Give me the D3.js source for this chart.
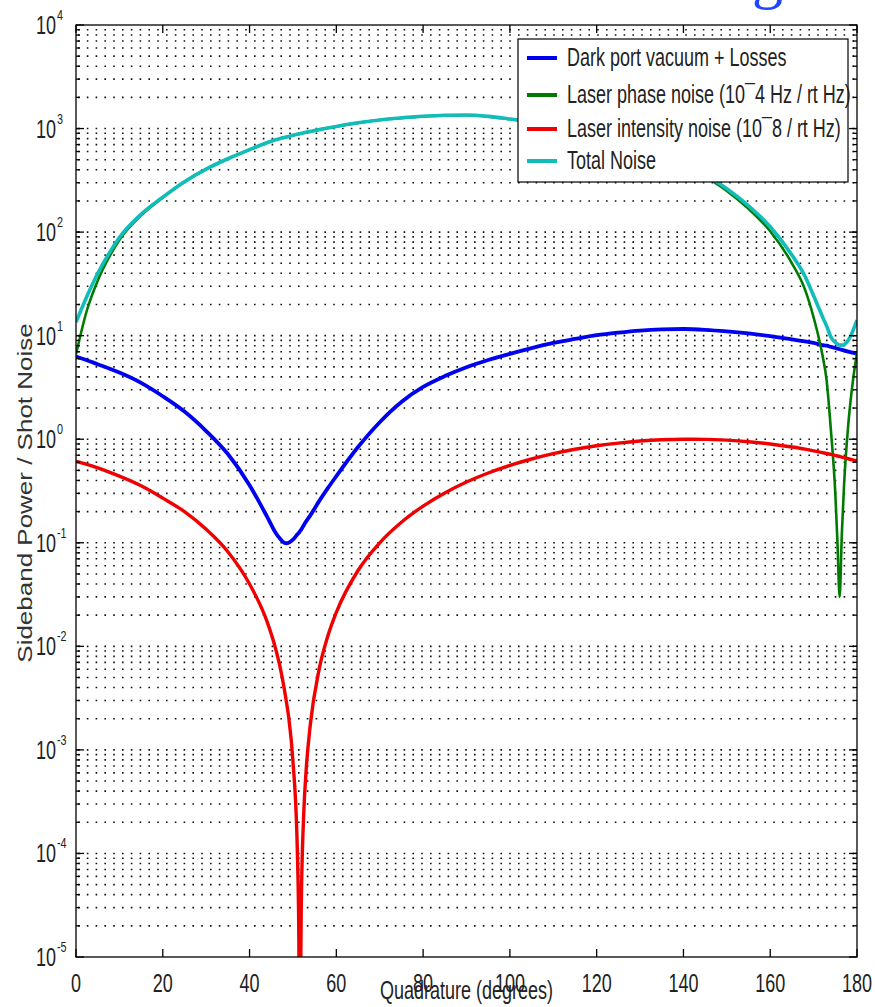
<!DOCTYPE html>
<html>
<head>
<meta charset="utf-8">
<script src="https://cdn.jsdelivr.net/npm/d3@7"></script>
<style>
  body { margin: 0; background: #fff; }
  svg { display: block; font-family: "Liberation Sans", Arial, sans-serif; }
</style>
</head>
<body>
<svg id="chart" width="875" height="1007"></svg>
<script>
// quadrature angle (degrees) shared by all curves
const quadratureDeg = [0, 2.5, 5, 7.5, 10, 15, 20, 25, 30, 35, 40, 44, 46, 47, 48, 48.5, 49, 50, 51,
  51.3, 51.6, 51.9, 52.5, 53, 54, 56, 58, 60, 65, 70, 75, 80, 85, 90, 95, 100,
  105, 110, 115, 120, 125, 130, 135, 140, 145, 150, 155, 160, 165, 168, 170,
  172, 173, 174, 175, 175.5, 176, 176.5, 177, 178, 179, 180];

const darkPortVacuum = [6.3, 5.8, 5.3, 4.85, 4.4, 3.5, 2.6, 1.85, 1.2, 0.72, 0.36, 0.18, 0.125, 0.11, 0.1, 0.099, 0.1, 0.107, 0.12,
  0.124, 0.129, 0.134, 0.148, 0.16, 0.184, 0.251, 0.335, 0.44, 0.84, 1.46, 2.29, 3.2, 4.07, 4.95, 5.82, 6.68,
  7.59, 8.51, 9.3, 10.1, 10.7, 11.2, 11.5, 11.6, 11.4, 11.0, 10.5, 9.9, 9.2, 8.8, 8.5,
  8.1, 8.0, 7.8, 7.6, 7.5, 7.4, 7.3, 7.2, 7.0, 6.85, 6.7];

const laserPhaseNoise = [6.6, 17.5, 34, 56, 84, 145, 215, 305, 405, 510, 625, 730, 780, 800, 820, 830, 840, 860, 880,
  886, 892, 898, 910, 919, 938, 975, 1012, 1048, 1135, 1210, 1265, 1310, 1338, 1345, 1305, 1230,
  1152, 1068, 978, 880, 775, 665, 555, 455, 345, 250, 168, 102, 50, 28, 15,
  6.6, 3.7, 1.2, 0.3, 0.1, 0.03, 0.12, 0.35, 1.4, 3.5, 6.8];

const laserIntensityNoise = [0.61, 0.572, 0.53, 0.484, 0.44, 0.355, 0.27, 0.2, 0.135, 0.082, 0.04, 0.0175, 0.0095, 0.0064, 0.0039, 0.0029, 0.0021, 0.00078, 0.00011,
  0.000027, 0.000001, 0.000027, 0.00025, 0.0006, 0.00175, 0.0059, 0.0124, 0.0213, 0.054, 0.1, 0.158, 0.226, 0.303, 0.386, 0.472, 0.559,
  0.644, 0.725, 0.8, 0.865, 0.918, 0.96, 0.987, 0.999, 0.997, 0.979, 0.946, 0.9, 0.842, 0.803, 0.773,
  0.742, 0.728, 0.713, 0.697, 0.689, 0.681, 0.673, 0.664, 0.648, 0.631, 0.614];

const totalNoise = [13.5, 23.9, 39.8, 61.3, 88.8, 148.9, 217.9, 307, 406.3, 510.8, 625.4, 730.2, 780.1, 800.1, 820.1, 830.1, 840.1, 860.1, 880.1,
  886.1, 892.1, 898.1, 910.2, 919.2, 938.2, 975.3, 1012.4, 1048.5, 1135.9, 1211.6, 1267.4, 1313.4, 1342.4, 1350.3, 1311.3, 1237.2,
  1160.2, 1077.2, 988.1, 891, 786.6, 677.2, 567.5, 467.6, 357.4, 262, 179.5, 112.8, 60, 37.6, 24.3,
  15.4, 12.4, 9.7, 8.6, 8.3, 8.1, 8.1, 8.2, 9.05, 11.0, 14.1];

const seriesNames = [
  "Dark port vacuum + Losses",
  "Laser phase noise (10\u00AF4 Hz / rt Hz)",
  "Laser intensity noise (10\u00AF8 / rt Hz)",
  "Total Noise"
];
const seriesColors = ["#0000f0", "#007a00", "#f00000", "#10bdb8"];

const xTicks = [0, 20, 40, 60, 80, 100, 120, 140, 160, 180];
const yDecades = [-5, -4, -3, -2, -1, 0, 1, 2, 3, 4];

const xLabel = "Quadrature (degrees)";
const yLabel = "Sideband Power / Shot Noise";

// layout
const plotLeft = 76, plotRight = 857, plotTop = 25, plotBottom = 957;
const squish = 0.72;

const x = d3.scaleLinear().domain([0, 180]).range([plotLeft, plotRight]);
const y = d3.scaleLog().domain([1e-5, 1e4]).range([plotBottom, plotTop]);

const svg = d3.select("#chart");

svg.append("defs").append("clipPath").attr("id", "plotClip")
  .append("rect")
  .attr("x", plotLeft).attr("y", plotTop)
  .attr("width", plotRight - plotLeft).attr("height", plotBottom - plotTop);

// piece of a blue title cut by the top edge
svg.append("text")
  .attr("x", 752).attr("y", -3)
  .attr("font-family", "Liberation Serif, serif")
  .attr("font-size", 62)
  .attr("fill", "#2244ff")
  .text("g");

// dotted grid on every log step
const minorVals = yDecades.slice(0, -1)
  .flatMap(d => d3.range(1, 10).map(k => k * Math.pow(10, d)))
  .filter(v => v > 1e-5);
const majorVals = yDecades.map(d => Math.pow(10, d));

svg.append("g")
  .selectAll("line")
  .data(minorVals)
  .enter()
  .append("line")
  .attr("x1", plotLeft + 2).attr("x2", plotRight)
  .attr("y1", d => y(d)).attr("y2", d => y(d))
  .attr("stroke", "#111")
  .attr("stroke-width", 1.6)
  .attr("stroke-dasharray", "1.6,7.2");

// curves
const line = d3.line()
  .x(d => x(d[0]))
  .y(d => y(d[1]))
  .curve(d3.curveMonotoneX);

const seriesData = [darkPortVacuum, laserPhaseNoise, laserIntensityNoise, totalNoise];
const seriesWidths = [3.8, 2.6, 3.4, 3.6];

svg.append("g")
  .attr("clip-path", "url(#plotClip)")
  .selectAll("path")
  .data(seriesData)
  .enter()
  .append("path")
  .attr("d", vals => line(quadratureDeg.map((q, i) => [q, vals[i]])))
  .attr("fill", "none")
  .attr("stroke", (d, i) => seriesColors[i])
  .attr("stroke-width", (d, i) => seriesWidths[i])
  .attr("stroke-linejoin", "round");

// axes box and ticks
const axes = svg.append("g").attr("stroke", "#000").attr("stroke-width", 1.3);

axes.append("rect")
  .attr("x", plotLeft).attr("y", plotTop)
  .attr("width", plotRight - plotLeft).attr("height", plotBottom - plotTop)
  .attr("fill", "none");

xTicks.forEach(t => {
  axes.append("line").attr("x1", x(t)).attr("x2", x(t)).attr("y1", plotBottom).attr("y2", plotBottom - 8);
  axes.append("line").attr("x1", x(t)).attr("x2", x(t)).attr("y1", plotTop).attr("y2", plotTop + 8);
});

majorVals.forEach(v => {
  axes.append("line").attr("x1", plotLeft).attr("x2", plotLeft + 8).attr("y1", y(v)).attr("y2", y(v));
  axes.append("line").attr("x1", plotRight).attr("x2", plotRight - 8).attr("y1", y(v)).attr("y2", y(v));
});
minorVals.forEach(v => {
  axes.append("line").attr("x1", plotLeft).attr("x2", plotLeft + 4).attr("y1", y(v)).attr("y2", y(v));
  axes.append("line").attr("x1", plotRight).attr("x2", plotRight - 4).attr("y1", y(v)).attr("y2", y(v));
});

function squishText(g, tx, ty, str, size, anchor) {
  return g.append("text")
    .attr("transform", "translate(" + tx + "," + ty + ") scale(" + squish + ",1)")
    .attr("font-size", size)
    .attr("text-anchor", anchor)
    .attr("fill", "#222")
    .text(str);
}

const labels = svg.append("g");

xTicks.forEach(t => squishText(labels, x(t), 992, String(t), 25, "middle"));

yDecades.forEach(d => {
  squishText(labels, 56, y(Math.pow(10, d)) + 9, "10", 25, "end");
  squishText(labels, 57, y(Math.pow(10, d)) - 5, String(d), 15, "start");
});

squishText(labels, (plotLeft + plotRight) / 2, 999, xLabel, 25, "middle");

labels.append("text")
  .attr("transform", "translate(32," + ((plotTop + plotBottom) / 2 + 2) + ") scale(0.78,1) rotate(-90)")
  .attr("font-size", 26)
  .attr("text-anchor", "middle")
  .attr("fill", "#333")
  .text(yLabel);

// legend
const legendRows = [58, 95, 129, 161];
const legend = svg.append("g");
legend.append("rect")
  .attr("x", 518).attr("y", 39)
  .attr("width", 330).attr("height", 143)
  .attr("fill", "#fff")
  .attr("stroke", "#000")
  .attr("stroke-width", 1.2);

seriesNames.forEach((name, i) => {
  legend.append("line")
    .attr("x1", 527).attr("x2", 557)
    .attr("y1", legendRows[i]).attr("y2", legendRows[i])
    .attr("stroke", seriesColors[i])
    .attr("stroke-width", 4);
  squishText(legend, 567, legendRows[i] + 8, name, 25, "start");
});
</script>
</body>
</html>
